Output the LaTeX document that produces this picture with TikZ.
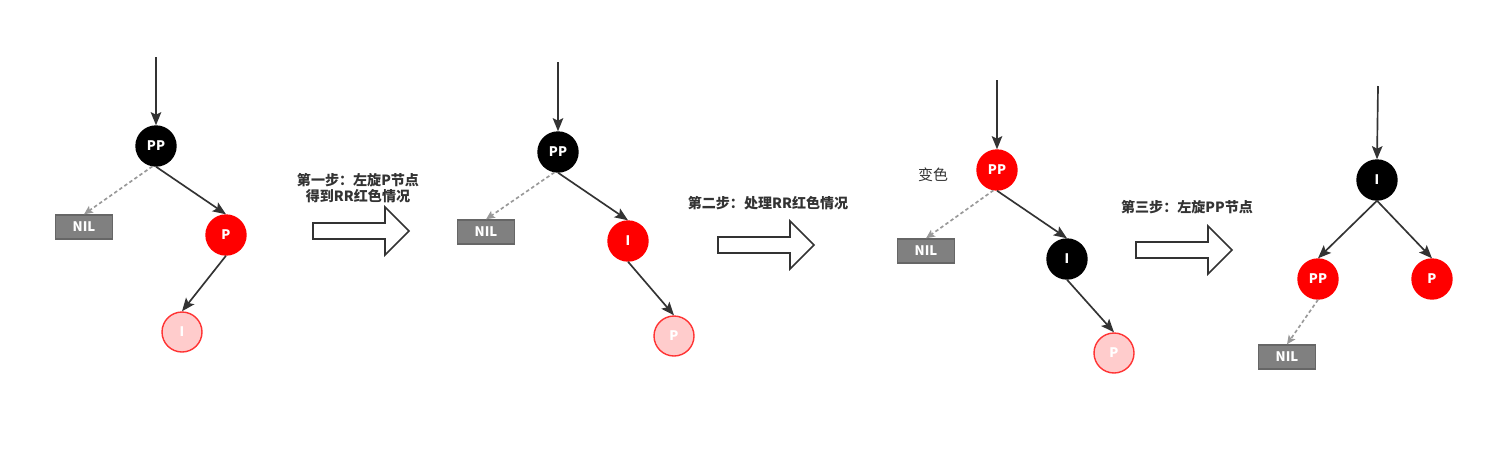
\documentclass[tikz,border=0pt]{standalone}
\usepackage{fontspec}
\setmainfont{Noto Sans CJK SC}
\usepackage{tikz}
\usetikzlibrary{arrows.meta}

\definecolor{edgegray}{HTML}{333333}
\definecolor{nilgray}{HTML}{808080}
\definecolor{nilline}{HTML}{666666}
\definecolor{dashgray}{HTML}{999999}
\definecolor{rbred}{HTML}{FF0000}
\definecolor{pinkfill}{HTML}{FFCCCC}
\definecolor{pinkline}{HTML}{FF3333}

\begin{document}
\begin{tikzpicture}[x=0.02cm, y=-0.02cm,
    rbnode/.style={circle, minimum size=0.8cm, inner sep=0pt, line width=0.8pt, text=white, font=\fontsize{7.5}{7.5}\selectfont\bfseries},
    blacknode/.style={rbnode, draw=black, fill=black},
    rednode/.style={rbnode, draw=rbred, fill=rbred},
    newnode/.style={rbnode, draw=pinkline, fill=pinkfill},
    nilbox/.style={rectangle, minimum width=1.14cm, minimum height=0.48cm, inner sep=0pt, line width=0.8pt, draw=nilline, fill=nilgray, text=white, font=\fontsize{7.5}{7.5}\selectfont\bfseries},
    link/.style={draw=edgegray, line width=0.95pt, -{Stealth[length=7.5pt, width=6pt, inset=1.5pt]}},
    nillink/.style={draw=dashgray, line width=0.95pt, dash pattern=on 2pt off 1.5pt, -{Stealth[length=5pt, width=4.5pt, inset=1pt]}},
    steparrow/.style={draw=edgegray, line width=0.9pt, fill=white},
    steplabel/.style={text=edgegray, align=center, font=\fontsize{8}{9}\selectfont\bfseries}]
    \useasboundingbox (0,0) rectangle (1504,451);

    % tree 1
    \coordinate (in1) at (156,57);
    \node[blacknode] (pp1) at (156,146) {PP};
    \node[nilbox] (nil1) at (84,227) {NIL};
    \node[rednode] (p1) at (226,235) {P};
    \node[newnode] (i1) at (182,332) {I};
    \draw[link] (in1) -- (pp1.north);
    \draw[nillink] (pp1.-100) -- (nil1.north);
    \draw[link] (pp1.south) -- (p1.north);
    \draw[link] (p1.south) -- (i1.north);

    % tree 2
    \coordinate (in2) at (558,62);
    \node[blacknode] (pp2) at (558,152) {PP};
    \node[nilbox] (nil2) at (486,232) {NIL};
    \node[rednode] (i2) at (628,241) {I};
    \node[newnode] (p2) at (674,336) {P};
    \draw[link] (in2) -- (pp2.north);
    \draw[nillink] (pp2.-100) -- (nil2.north);
    \draw[link] (pp2.south) -- (i2.north);
    \draw[link] (i2.south) -- (p2.north);

    % tree 3
    \coordinate (in3) at (997,80);
    \node[rednode] (pp3) at (997,170) {PP};
    \node[nilbox] (nil3) at (926,251) {NIL};
    \node[blacknode] (i3) at (1067,259) {I};
    \node[newnode] (p3) at (1114,353) {P};
    \draw[link] (in3) -- (pp3.north);
    \draw[nillink] (pp3.-100) -- (nil3.north);
    \draw[link] (pp3.south) -- (i3.north);
    \draw[link] (i3.south) -- (p3.north);

    % tree 4
    \coordinate (in4) at (1378,86);
    \node[blacknode] (i4) at (1377,180) {I};
    \node[rednode] (pp4) at (1318,279) {PP};
    \node[rednode] (p4) at (1432,279) {P};
    \node[nilbox] (nil4) at (1287,357) {NIL};
    \draw[link] (in4) -- (i4.north);
    \draw[link] (i4.south) -- (pp4.north);
    \draw[link] (i4.south) -- (p4.north);
    \draw[nillink] (pp4.south) -- (nil4.north);

    % step arrows
    \foreach \ax/\ay in {313/231, 718/245, 1136/250}
        \draw[steparrow] (\ax,\ay-8) -- ++(72,0) -- ++(0,-16) -- ++(24,24) -- ++(-24,24) -- ++(0,-16) -- ++(-72,0) -- cycle;

    % Labels
    \node[steplabel] (step1) at (358,188) {第一步：左旋P节点\\得到RR红色情况};
    \node[steplabel] (step2) at (768,203) {第二步：处理RR红色情况};
    \node[steplabel] (step3) at (1187,207) {第三步：左旋PP节点};
    \node[text=edgegray, font=\fontsize{8.5}{9}\selectfont] (recolor) at (933,175) {变色};
\end{tikzpicture}
\end{document}
